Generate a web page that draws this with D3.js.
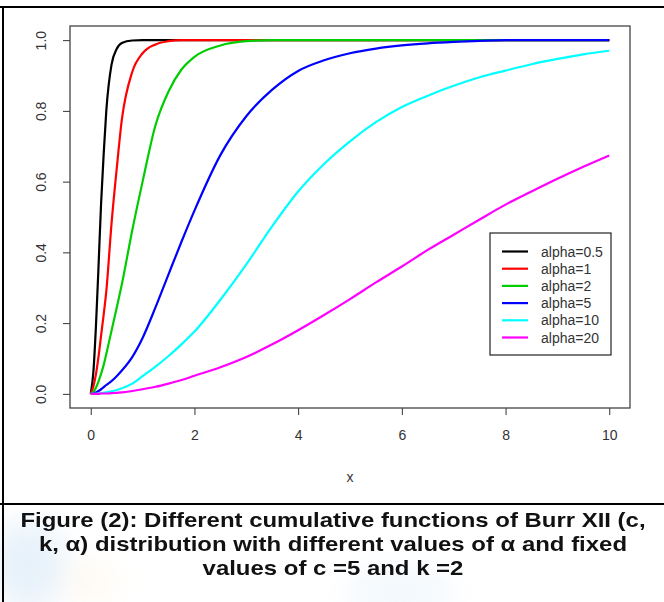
<!DOCTYPE html>
<html>
<head>
<meta charset="utf-8">
<script src="https://cdn.jsdelivr.net/npm/d3@7"></script>
<style>
  body { margin: 0; background: #fff; }
  svg { display: block; }
</style>
</head>
<body>
<div id="graf"></div>
<script>
// Burr XII - funciones de distribución acumulada
//

// valores
xs = [0, 0.05, 0.1, 0.15, 0.2, 0.25, 0.3, 0.4, 0.5, 0.6, 0.8, 1, 1.25, 1.5, 1.75, 2,
      2.5, 3, 3.5, 4, 4.5, 5, 5.5, 6, 6.5, 7, 7.5, 8, 8.5, 9, 9.5, 10]

alpha05 = [0, 0.06, 0.19, 0.36, 0.54, 0.68, 0.80, 0.93, 0.975, 0.992, 0.999, 1, 1, 1, 1, 1,
           1, 1, 1, 1, 1, 1, 1, 1, 1, 1, 1, 1, 1, 1, 1, 1]
alpha1  = [0, 0.02, 0.055, 0.105, 0.165, 0.225, 0.29, 0.48, 0.635, 0.775, 0.91, 0.963, 0.988, 0.997, 1, 1,
           1, 1, 1, 1, 1, 1, 1, 1, 1, 1, 1, 1, 1, 1, 1, 1]
alpha2  = [0, 0.005, 0.017, 0.035, 0.057, 0.082, 0.113, 0.178, 0.243, 0.31, 0.462, 0.6, 0.76, 0.855, 0.917, 0.953,
           0.985, 0.997, 1, 1, 1, 1, 1, 1, 1, 1, 1, 1, 1, 1, 1, 1]
alpha5  = [0, 0.001, 0.004, 0.008, 0.013, 0.019, 0.025, 0.036, 0.05, 0.066, 0.104, 0.158, 0.245, 0.338, 0.43, 0.518,
           0.675, 0.785, 0.86, 0.913, 0.943, 0.963, 0.976, 0.985, 0.991, 0.995, 0.998, 1, 1, 1, 1, 1]
alpha10 = [0, 0, 0.0005, 0.001, 0.002, 0.003, 0.004, 0.007, 0.011, 0.016, 0.029, 0.05, 0.077, 0.107, 0.14, 0.176,
           0.266, 0.366, 0.474, 0.572, 0.65, 0.714, 0.768, 0.811, 0.843, 0.871, 0.895, 0.914, 0.932, 0.947, 0.96, 0.97]
alpha20 = [0, 0, 0, 0, 0.001, 0.001, 0.001, 0.002, 0.003, 0.004, 0.008, 0.013, 0.02, 0.029, 0.039, 0.051,
           0.075, 0.104, 0.14, 0.18, 0.223, 0.268, 0.315, 0.36, 0.407, 0.45, 0.493, 0.535, 0.572, 0.608, 0.642, 0.674]

etiquetas = ['alpha=0.5', 'alpha=1', 'alpha=2', 'alpha=5', 'alpha=10', 'alpha=20']
colores   = ['#000000', '#ff0000', '#00cd00', '#0000ff', '#00ffff', '#ff00ff']
series    = [alpha05, alpha1, alpha2, alpha5, alpha10, alpha20]

xTicks = [0, 2, 4, 6, 8, 10]
yTicks = [0, 0.2, 0.4, 0.6, 0.8, 1.0]

caption = [
  'Figure (2): Different cumulative functions of Burr XII (c,',
  'k, \u03b1) distribution with different values of \u03b1 and fixed',
  'values of c =5 and k =2'
]

ancho_total = 664
alto_total  = 602
plot = { left: 70, right: 630, top: 26, bottom: 408 }

svg = d3.select('#graf').append('svg')
        .attr('width', ancho_total)
        .attr('height', alto_total)
        .style('font-family', 'Liberation Sans, Arial, sans-serif')

// fondo difuso del pie de figura
defs = svg.append('defs')
defs.append('filter').attr('id', 'blur')
    .append('feGaussianBlur').attr('stdDeviation', 16)
fondo = svg.append('g').attr('filter', 'url(#blur)')
fondo.append('ellipse').attr('cx', 28).attr('cy', 565).attr('rx', 36).attr('ry', 45)
     .attr('fill', '#dcebf8').attr('opacity', 0.7)
fondo.append('ellipse').attr('cx', 90).attr('cy', 582).attr('rx', 26).attr('ry', 14)
     .attr('fill', '#fdf3e2').attr('opacity', 0.7)
fondo.append('ellipse').attr('cx', 400).attr('cy', 592).attr('rx', 55).attr('ry', 20)
     .attr('fill', '#e6f1fa').attr('opacity', 0.6)

// Escaladores (R extiende el rango un 4%)
x = d3.scaleLinear().domain([-0.4, 10.4]).range([plot.left, plot.right])
y = d3.scaleLinear().domain([-0.04, 1.04]).range([plot.bottom, plot.top])

// Ejes
xAxis = svg.append('g')
           .attr('transform', `translate(0, ${plot.bottom})`)
           .call(d3.axisBottom(x).tickValues(xTicks).tickSize(7).tickPadding(15).tickFormat(d3.format('d')))
xAxis.attr('font-size', 14).attr('font-family', null)
xAxis.select('.domain').remove()
xAxis.selectAll('text').attr('fill', '#333')

yAxis = svg.append('g')
           .attr('transform', `translate(${plot.left}, 0)`)
           .call(d3.axisLeft(y).tickValues(yTicks).tickSize(7).tickFormat(d3.format('.1f')))
yAxis.attr('font-size', 14).attr('font-family', null)
yAxis.select('.domain').remove()
yAxis.selectAll('text')
     .attr('x', 0).attr('y', 0).attr('dy', 0)
     .attr('transform', 'translate(-24, 0) rotate(-90)')
     .attr('text-anchor', 'middle')
     .attr('fill', '#333')
svg.selectAll('.tick line').attr('stroke', '#333')

svg.append('text')
   .attr('x', (plot.left + plot.right) / 2)
   .attr('y', 482)
   .attr('text-anchor', 'middle')
   .attr('font-size', 14)
   .attr('fill', '#333')
   .text('x')

// Generador de líneas
lineaGen = d3.line()
             .x((d, i) => x(xs[i]))
             .y(d => y(d))
             .curve(d3.curveMonotoneX)

svg.append('g').selectAll('path')
   .data(series)
   .join('path')
   .attr('fill', 'none')
   .attr('stroke', (d, i) => colores[i])
   .attr('stroke-width', 2.2)
   .attr('d', d => lineaGen(d))

// caja del gráfico
svg.append('rect')
   .attr('x', plot.left).attr('y', plot.top)
   .attr('width', plot.right - plot.left).attr('height', plot.bottom - plot.top)
   .attr('fill', 'none').attr('stroke', '#444').attr('stroke-width', 1.3)

// Leyenda
leg = svg.append('g').attr('transform', 'translate(490, 233)')
leg.append('rect')
   .attr('width', 121).attr('height', 122)
   .attr('fill', '#fff').attr('stroke', '#222').attr('stroke-width', 1.2)
filas = leg.selectAll('g.fila')
   .data(etiquetas)
   .join('g')
   .attr('class', 'fila')
   .attr('transform', (d, i) => `translate(0, ${18.5 + i * 17.2})`)
filas.append('line')
   .attr('x1', 12).attr('x2', 38)
   .attr('stroke', (d, i) => colores[i])
   .attr('stroke-width', 2.2)
filas.append('text')
   .attr('x', 51).attr('dy', '0.36em')
   .attr('font-size', 14)
   .attr('fill', '#333')
   .text(d => d)

// marco y pie de figura
svg.append('line').attr('x1', 0).attr('x2', ancho_total).attr('y1', 7).attr('y2', 7)
   .attr('stroke', '#000').attr('stroke-width', 2)
svg.append('line').attr('x1', 3).attr('x2', 3).attr('y1', 6).attr('y2', alto_total)
   .attr('stroke', '#000').attr('stroke-width', 2)
svg.append('line').attr('x1', 0).attr('x2', ancho_total).attr('y1', 504).attr('y2', 504)
   .attr('stroke', '#000').attr('stroke-width', 2)

// el texto del pie está algo ensanchado en el original
pie = svg.append('g').selectAll('text')
   .data(caption)
   .join('text')
   .attr('x', 333)
   .attr('y', (d, i) => 527 + i * 24)
   .attr('text-anchor', 'middle')
   .attr('font-size', 21)
   .attr('font-weight', 'bold')
   .attr('fill', '#111')
   .text(d => d)
pie.each(function() {
  largo = this.getComputedTextLength()
  d3.select(this).attr('textLength', largo * 1.14).attr('lengthAdjust', 'spacingAndGlyphs')
})
</script>
</body>
</html>
